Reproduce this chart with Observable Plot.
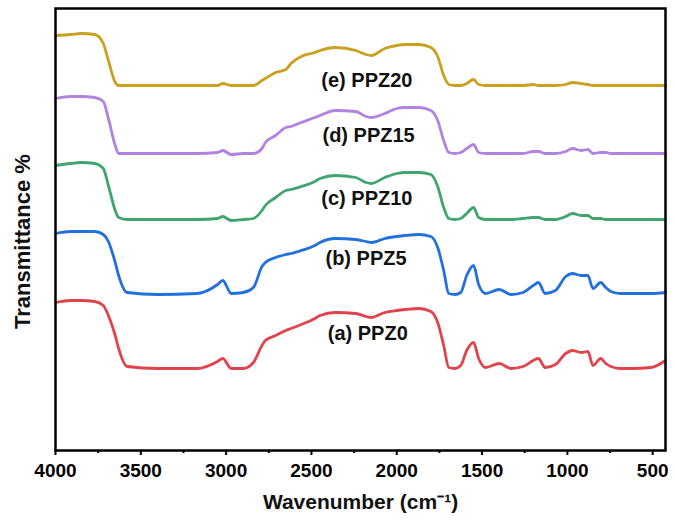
<!DOCTYPE html>
<html>
<head>
<meta charset="utf-8">
<script src="https://cdn.jsdelivr.net/npm/d3@7"></script>
<script src="https://cdn.jsdelivr.net/npm/@observablehq/plot@0.6"></script>
<style>
  body { margin: 0; background: #fff; }
  #chart svg { font-family: "Liberation Sans", Arial, sans-serif; }
</style>
</head>
<body>
<div id="chart"></div>
<script>
// FTIR spectra of the PPZ series, stacked with a vertical offset (arbitrary transmittance units)
const wavenumber = [
  4000, 3910, 3850, 3770, 3720, 3690, 3650, 3630, 3580, 3400,
  3170, 3050, 3020, 2970, 2900, 2840, 2790, 2770, 2710, 2650,
  2620, 2560, 2480, 2450, 2360, 2240, 2180, 2150, 2070, 2000,
  1950, 1870, 1800, 1760, 1725, 1695, 1660, 1625, 1590, 1550,
  1520, 1480, 1400, 1330, 1260, 1200, 1170, 1130, 1070, 1010,
  970, 920, 880, 850, 805, 775, 745, 690, 630, 510, 425
];

const ppz0 = [
  29.6, 30.0, 30.0, 29.8, 29.0, 27.0, 23.0, 20.4, 16.8, 16.4,
  16.4, 17.8, 18.4, 16.4, 16.4, 17.6, 21.0, 22.0, 23.0, 24.0,
  24.4, 25.2, 26.4, 27.0, 27.6, 27.4, 26.8, 26.6, 27.6, 28.0,
  28.2, 28.4, 27.8, 25.6, 21.0, 16.6, 16.4, 17.0, 20.0, 21.6,
  18.4, 16.6, 17.4, 16.4, 16.8, 18.0, 18.4, 16.6, 17.2, 19.4,
  20.0, 19.6, 19.8, 17.0, 18.4, 17.4, 16.8, 16.4, 16.4, 16.6, 18.0
];

const ppz5 = [
  43.4, 43.8, 43.8, 43.8, 43.2, 41.8, 37.6, 35.0, 31.6, 31.2,
  31.4, 33.2, 34.0, 31.4, 31.6, 32.6, 36.8, 37.6, 38.6, 39.2,
  39.4, 40.0, 41.0, 41.6, 42.4, 42.2, 41.8, 41.6, 42.4, 42.8,
  43.0, 43.2, 42.8, 40.6, 36.0, 31.4, 31.2, 31.6, 35.0, 37.0,
  33.2, 31.4, 32.2, 31.2, 31.6, 33.0, 33.6, 31.4, 32.0, 34.8,
  35.4, 35.0, 35.0, 32.4, 33.6, 32.6, 31.8, 31.4, 31.4, 31.4, 31.6
];

const ppz10 = [
  57.0, 57.4, 57.6, 57.4, 56.4, 53.0, 48.0, 46.6, 46.2, 46.2,
  46.2, 46.4, 46.8, 46.0, 46.2, 46.4, 48.0, 49.0, 50.6, 52.0,
  52.2, 52.8, 53.8, 54.4, 55.0, 54.6, 53.6, 53.4, 54.6, 55.4,
  55.6, 55.6, 55.2, 52.8, 48.6, 46.4, 46.2, 46.4, 47.4, 48.6,
  46.6, 46.2, 46.2, 46.2, 46.4, 46.6, 46.6, 46.2, 46.2, 46.8,
  47.4, 47.0, 47.0, 46.4, 46.4, 46.2, 46.2, 46.2, 46.2, 46.2, 46.2
];

const ppz15 = [
  70.4, 70.8, 70.8, 70.6, 69.8, 66.4, 61.0, 59.4, 59.4, 59.4,
  59.4, 59.6, 60.0, 59.2, 59.4, 59.4, 60.4, 61.6, 63.0, 64.6,
  64.8, 65.6, 66.6, 67.0, 68.0, 67.8, 66.8, 66.6, 67.4, 68.4,
  68.6, 68.6, 68.0, 66.0, 62.0, 59.6, 59.4, 59.6, 60.4, 61.2,
  59.6, 59.4, 59.4, 59.4, 59.4, 59.8, 59.8, 59.4, 59.4, 59.8,
  60.4, 60.0, 60.2, 59.4, 59.6, 59.6, 59.4, 59.4, 59.4, 59.4, 59.4
];

const ppz20 = [
  83.0, 83.2, 83.4, 83.2, 81.4, 78.0, 73.6, 73.0, 73.0, 73.0,
  73.0, 73.0, 73.4, 73.0, 73.0, 73.0, 74.0, 74.4, 75.6, 76.2,
  77.4, 78.8, 79.6, 80.0, 80.6, 80.0, 79.2, 79.0, 80.4, 81.0,
  81.2, 81.2, 80.6, 78.8, 75.0, 73.2, 73.0, 73.0, 73.4, 74.2,
  73.2, 73.0, 73.0, 73.0, 73.0, 73.2, 73.0, 73.0, 73.0, 73.2,
  73.6, 73.4, 73.2, 73.0, 73.0, 73.0, 73.0, 73.0, 73.0, 73.0, 73.0
];

const samples = ["PPZ0", "PPZ5", "PPZ10", "PPZ15", "PPZ20"];
const spectra = [ppz0, ppz5, ppz10, ppz15, ppz20];
const colors = ["#e0434b", "#2170db", "#3ea56f", "#b083df", "#c9a01f"];

// curve labels, placed beneath each spectrum's broad band
const labelText = ["(a) PPZ0", "(b) PPZ5", "(c) PPZ10", "(d) PPZ15", "(e) PPZ20"];
const labelWavenumber = [2170, 2180, 2175, 2165, 2175];
const labelT = [23.4, 38.4, 50.4, 63.0, 74.0];

const majorTicks = [4000, 3500, 3000, 2500, 2000, 1500, 1000, 500];
const minorTicks = [3750, 3250, 2750, 2250, 1750, 1250, 750];

const points = samples.flatMap((s, k) =>
  wavenumber.map((w, i) => ({sample: s, w, t: spectra[k][i]}))
);
const labels = labelText.map((text, i) => ({text, w: labelWavenumber[i], t: labelT[i]}));

const chart = Plot.plot({
  width: 675,
  height: 523,
  marginLeft: 55,
  marginRight: 10,
  marginTop: 8,
  marginBottom: 73,
  style: {background: "#fff", color: "#000", fontFamily: "Liberation Sans, Arial, sans-serif"},
  x: {domain: [4000, 425], label: null},
  y: {domain: [0, 88.4], axis: null},
  color: {domain: samples, range: colors},
  marks: [
    Plot.line(points, {
      x: "w", y: "t", z: "sample", stroke: "sample",
      strokeWidth: 2.8, curve: "monotone-x", strokeLinejoin: "round"
    }),
    Plot.text(labels, {
      x: "w", y: "t", text: "text",
      fontSize: 20, fontWeight: "bold", fill: "#111"
    }),
    Plot.axisX(minorTicks, {tickSize: 3, strokeWidth: 2, tickFormat: () => ""}),
    Plot.axisX(majorTicks, {
      tickSize: 5, tickPadding: 8, strokeWidth: 2,
      fontSize: 19, fontWeight: "bold", tickFormat: d => String(d)
    }),
    Plot.frame({stroke: "#000", strokeWidth: 2.5}),
    Plot.text(["Transmittance %"], {
      frameAnchor: "left", textAnchor: "middle", lineAnchor: "middle",
      rotate: -90, dx: -33, dy: 12,
      fontSize: 22, fontWeight: "bold", fill: "#111"
    }),
    Plot.text(["Wavenumber (cm\u207B\u00B9)"], {
      frameAnchor: "bottom", lineAnchor: "middle", dy: 52,
      fontSize: 21, fontWeight: "bold", fill: "#111"
    })
  ]
});

document.getElementById("chart").append(chart);
</script>
</body>
</html>
